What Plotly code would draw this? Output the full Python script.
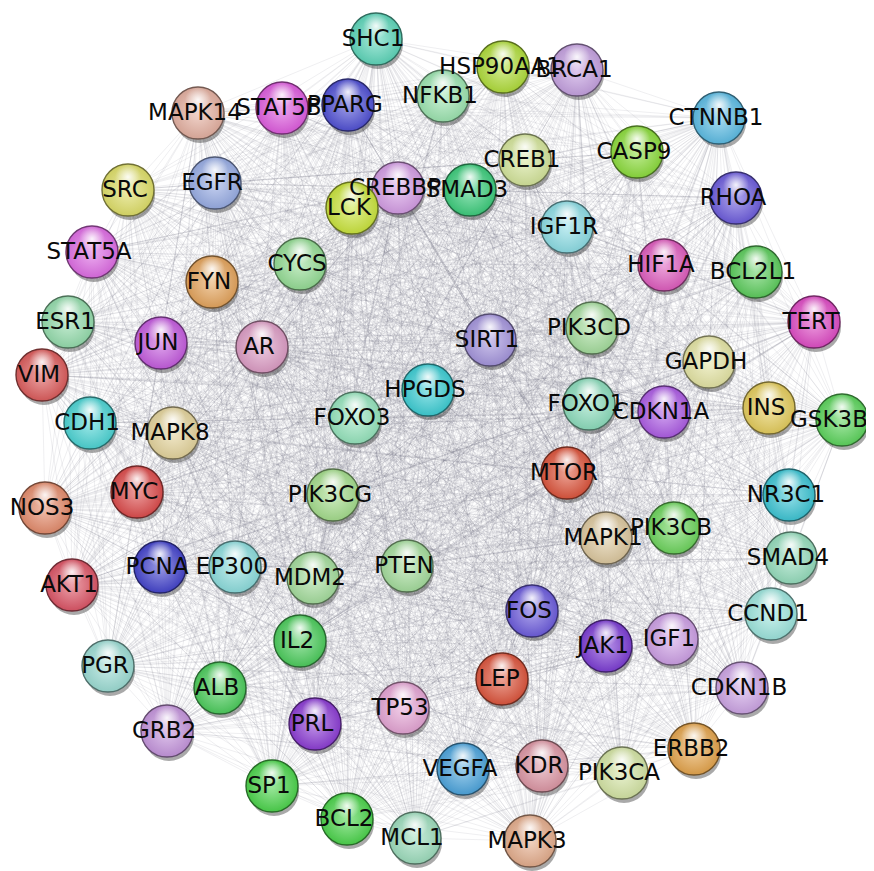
import plotly.graph_objects as go
import itertools

# ---- data: STRING network nodes (layout positions) ----
genes = ["SHC1","HSP90AA1","BRCA1","MAPK14","STAT5B","PPARG","NFKB1","CTNNB1","CREB1","CASP9",
         "SRC","EGFR","CREBBP","SMAD3","LCK","RHOA","IGF1R","STAT5A","FYN","CYCS",
         "HIF1A","BCL2L1","ESR1","TERT","JUN","AR","SIRT1","PIK3CD","GAPDH","VIM",
         "HPGDS","FOXO1","CDKN1A","INS","GSK3B","CDH1","MAPK8","FOXO3","MTOR","NOS3",
         "MYC","PIK3CG","NR3C1","PIK3CB","MAPK1","SMAD4","AKT1","PCNA","EP300","MDM2",
         "PTEN","CCND1","FOS","IGF1","JAK1","IL2","PGR","ALB","LEP","CDKN1B",
         "TP53","PRL","GRB2","VEGFA","KDR","PIK3CA","ERBB2","SP1","BCL2","MCL1","MAPK3"]
node_x = [376,503,577,198,282,348,443,719,525,637,
          128,215,398,470,352,736,567,92,212,300,
          664,756,68,814,161,262,490,592,709,42,
          428,589,664,769,842,90,173,355,567,45,
          137,333,789,674,606,791,72,160,235,313,
          407,771,532,672,606,300,108,220,502,742,
          403,315,167,463,542,622,694,272,347,415,530]
node_y = [39,67,70,113,108,105,96,118,160,152,
          190,183,188,190,208,198,227,252,282,264,
          265,272,322,322,343,347,340,328,362,375,
          390,404,412,408,420,423,433,418,473,508,
          492,495,495,528,538,558,585,567,567,578,
          566,614,611,639,646,641,666,688,679,688,
          708,724,731,769,766,773,749,786,819,838,841]
node_color = ["#5fd8bc","#b2de3c","#c6a2e2","#e6b2a2","#e05ee0","#5252d6","#9ee6b2","#5ebee6","#d6e69c","#8ede3e",
              "#e0e06a","#9aaee6","#d69ee6","#3ece7e","#cce63e","#6e5ede","#8edee6","#e06ee6","#e6a65e","#96de96",
              "#e05ec0","#5ece5e","#96deae","#e04ec6","#c65ee0","#de9ec6","#a696de","#a6de9e","#e6e6a6","#de5e5e",
              "#3ecfd6","#8edebe","#ae5ee6","#e6ce5e","#5ed65e","#4ed6d6","#e6d69e","#96e6be","#de563e","#e68e6e",
              "#de4e4e","#a6de8e","#3ec6d6","#6ed65e","#decaa0","#96debe","#de5668","#4646ce","#8edede","#a6de9e",
              "#a6de9e","#9ee6de","#6e5ede","#cea0e6","#7e3ed6","#4ece5e","#9eded6","#4ece5e","#de563e","#cea6e6",
              "#e6a6d6","#8e3ed6","#c696de","#4ea6de","#de98a6","#d6e6a6","#e6a64e","#4ed64e","#4ed64e","#9edebe","#e6ae8e"]

# label nudges (style only): keep the right-edge label inside the window
label_nudge = {"GSK3B": -10}


def shade(hexc, f):
    h = hexc.lstrip("#")
    r, g, b = int(h[0:2], 16), int(h[2:4], 16), int(h[4:6], 16)
    if f < 0:
        k = 1 + f
        r, g, b = int(r * k), int(g * k), int(b * k)
    else:
        r, g, b = int(r + (255 - r) * f), int(g + (255 - g) * f), int(b + (255 - b) * f)
    return f"rgb({r},{g},{b})"


# edges: the hairball is too dense to read individually; every pair is drawn faintly
ex, ey = [], []
for i, j in itertools.combinations(range(len(genes)), 2):
    ex += [node_x[i], node_x[j], None]
    ey += [node_y[i], node_y[j], None]

fig = go.Figure()
fig.add_trace(go.Scatter(x=ex, y=ey, mode="lines",
                         line=dict(color="rgba(105,110,130,0.19)", width=0.6),
                         hoverinfo="skip", showlegend=False))
# shadows
fig.add_trace(go.Scatter(x=[v + 2 for v in node_x], y=[v + 5 for v in node_y], mode="markers",
                         marker=dict(size=50, color="rgba(40,40,40,0.4)", line=dict(width=0)),
                         hoverinfo="skip", showlegend=False))
# spheres
fig.add_trace(go.Scatter(x=node_x, y=node_y, mode="markers",
                         marker=dict(size=52,
                                     color=[shade(c, -0.08) for c in node_color],
                                     gradient=dict(type="radial", color=[shade(c, 0.45) for c in node_color]),
                                     line=dict(width=1.4, color=[shade(c, -0.5) for c in node_color])),
                         hoverinfo="skip", showlegend=False))
# glossy highlight
fig.add_trace(go.Scatter(x=node_x, y=[v - 13 for v in node_y], mode="markers",
                         marker=dict(size=26, color="rgba(255,255,255,0)",
                                     gradient=dict(type="radial", color="rgba(255,255,255,0.9)"),
                                     line=dict(width=0)),
                         hoverinfo="skip", showlegend=False))
# labels (drawn slightly left of the sphere centre, as in the reference)
label_x = [x - 3 + label_nudge.get(g, 0) for g, x in zip(genes, node_x)]
fig.add_trace(go.Scatter(x=label_x, y=[v + 1 for v in node_y], mode="text", text=genes,
                         textfont=dict(family="DejaVu Sans", size=23, color="#0a0a0a"),
                         textposition="middle center", cliponaxis=False,
                         hoverinfo="skip", showlegend=False))

# the page body has an 8px margin, so the plot spans page pixels 8..874 / 8..871
fig.update_layout(width=866, height=863, margin=dict(l=0, r=0, t=0, b=0),
                  paper_bgcolor="white", plot_bgcolor="white",
                  xaxis=dict(range=[8, 874], visible=False, fixedrange=True),
                  yaxis=dict(range=[871, 8], visible=False, fixedrange=True))
fig.write_html("out.html")
